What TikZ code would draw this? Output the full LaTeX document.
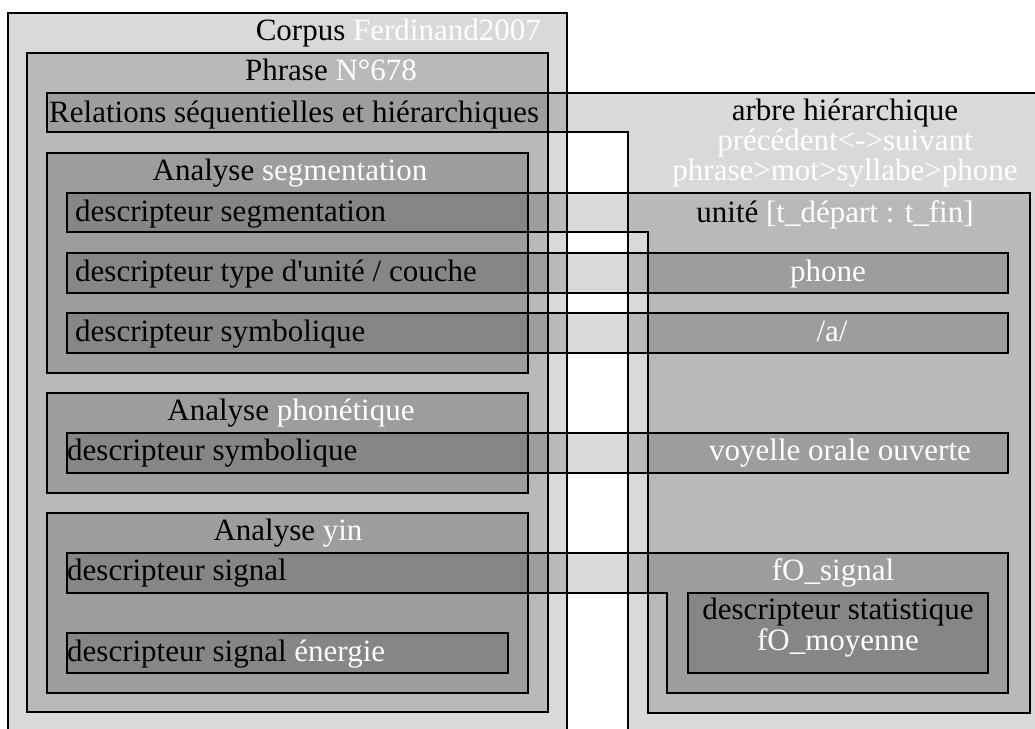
\documentclass[tikz,border=0pt]{standalone}
\usepackage{fontspec}
\newfontfamily\georgie{Liberation Serif}
\begin{document}
\begin{tikzpicture}[x=1pt,y=-1pt, every node/.style={font=\georgie\fontsize{31}{30}\selectfont, inner sep=0pt, text height=25pt, text depth=5pt}]
\tikzset{couche/.style={fill=black, fill opacity=0.15, line width=2.4pt}}
\useasboundingbox (0,0) rectangle (1035,728);
\clip (0,0) rectangle (1035,728);
% corpus, phrase
\draw[couche] (8,13) rectangle (567,745);
\draw[couche] (27,53) rectangle (548,712);
% relations band and arbre hierarchique
\draw[couche] (47,132) -- (47,93) -- (1050,93) -- (1050,745) -- (628,745) -- (628,132) -- cycle;
% analyses
\draw[couche] (47,153) rectangle (528,373);
\draw[couche] (47,393) rectangle (528,493);
\draw[couche] (47,513) rectangle (528,693);
% descripteur segmentation and unite
\draw[couche] (67,232) -- (67,193) -- (1030,193) -- (1030,713) -- (648,713) -- (648,232) -- cycle;
\draw[couche] (67,253) rectangle (1008,293);
\draw[couche] (67,313) rectangle (1008,353);
\draw[couche] (67,433) rectangle (1008,473);
% descripteur signal and f0
\draw[couche] (67,593) -- (67,553) -- (1008,553) -- (1008,693) -- (667,693) -- (667,593) -- cycle;
\draw[couche] (688,593) rectangle (988,673);
\draw[couche] (67,633) rectangle (508,673);
% texts
\node[anchor=east] (corpus) at (541,30) {Corpus \textcolor{white}{Ferdinand2007}};
\node (phrase) at (331,70) {Phrase \textcolor{white}{N°678}};
\node[anchor=west] (relations) at (49,112) {Relations séquentielles et hiérarchiques};
\node (anaseg) at (290,170) {Analyse \textcolor{white}{segmentation}};
\node[anchor=west] (descseg) at (75,211) {descripteur segmentation};
\node[anchor=west] (desctype) at (75,271) {descripteur type d'unité / couche};
\node[anchor=west] (descsym) at (75,331) {descripteur symbolique};
\node (anaphon) at (291,410) {Analyse \textcolor{white}{phonétique}};
\node[anchor=west] (descphon) at (67,450) {descripteur symbolique};
\node (anayin) at (288,530) {Analyse \textcolor{white}{yin}};
\node[anchor=west] (descsig) at (67,570) {descripteur signal};
\node[anchor=west] (descnrj) at (67,651) {descripteur signal \textcolor{white}{énergie}};
\node (arbre) at (845,110) {arbre hiérarchique};
\node[text=white] (ordre) at (845,140) {précédent<->suivant};
\node[text=white] (niveaux) at (845,170) {phrase>mot>syllabe>phone};
\node (unite) at (835,212) {unité \textcolor{white}{[t\_départ : t\_fin]}};
\node[text=white] (phone) at (828,271) {phone};
\node[text=white] (symb) at (832,331) {/a/};
\node[text=white] (voyelle) at (840,450) {voyelle orale ouverte};
\node[text=white] (fzero) at (833,570) {fO\_signal};
\node (stat) at (838,609) {descripteur statistique};
\node[text=white] (moyenne) at (838,640) {fO\_moyenne};
\end{tikzpicture}
\end{document}
